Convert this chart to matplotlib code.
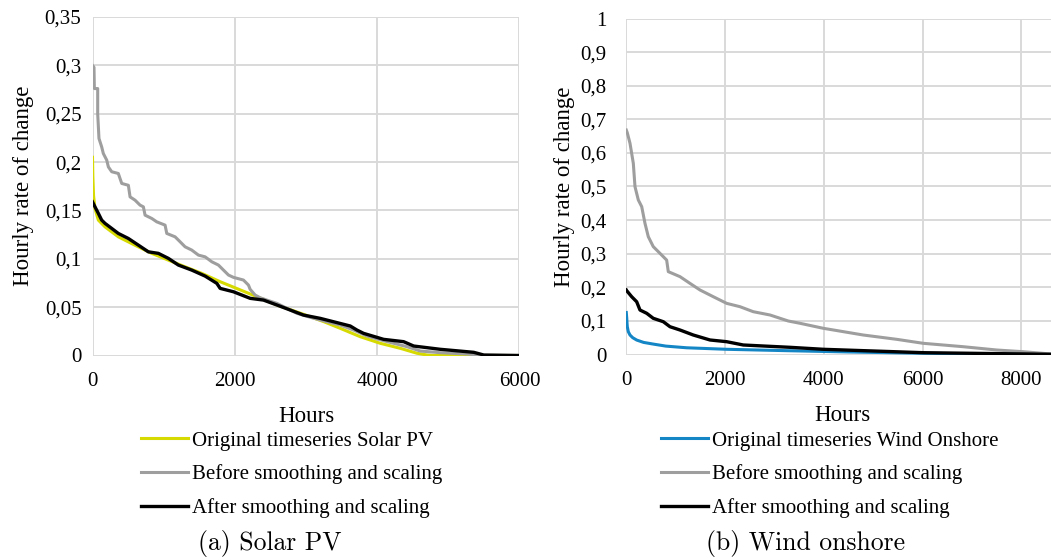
import matplotlib
matplotlib.use("Agg")
import matplotlib.pyplot as plt
from matplotlib.ticker import FuncFormatter, MultipleLocator

# ---- Solar PV duration curves (hours, hourly rate of change) ----
solar_orig_h = [0, 5, 15, 35, 82, 176, 363, 598, 833, 1067, 1301, 1536, 1794, 2310,
                2600, 2950, 3250, 3482, 3764, 4045, 4327, 4561, 4702, 4800, 6000]
solar_orig_v = [0.205, 0.185, 0.165, 0.152, 0.140, 0.133, 0.1227, 0.114, 0.1056, 0.0986,
                0.0917, 0.0849, 0.0763, 0.0608, 0.052, 0.043, 0.035, 0.0281, 0.0194,
                0.0126, 0.0074, 0.0023, 0.0005, 0.0, 0.0]

solar_before_h = [0, 21, 26, 73, 73, 91, 129, 152, 200, 223, 270, 363, 387, 411, 504, 528,
                  598, 668, 715, 739, 833, 903, 1020, 1044, 1161, 1231, 1301, 1395, 1489,
                  1583, 1677, 1770, 1841, 1911, 1981, 2122, 2192, 2216, 2286, 2357, 2451,
                  2592, 2732, 2873, 3060, 3295, 3482, 3670, 3858, 4092, 4421, 4608, 4889,
                  5265, 5499, 6000]
solar_before_v = [0.300, 0.298, 0.276, 0.276, 0.250, 0.2244, 0.2157, 0.2089, 0.2020, 0.195,
                  0.190, 0.1882, 0.183, 0.1779, 0.176, 0.164, 0.1606, 0.1555, 0.1537,
                  0.1451, 0.1417, 0.1382, 0.1348, 0.1262, 0.1227, 0.1176, 0.1124, 0.109,
                  0.1038, 0.102, 0.0969, 0.0935, 0.0883, 0.0832, 0.0808, 0.078, 0.0728,
                  0.0684, 0.0625, 0.0597, 0.0573, 0.0539, 0.0488, 0.0436, 0.0395, 0.0349,
                  0.0315, 0.0263, 0.0201, 0.0153, 0.0091, 0.0046, 0.0029, 0.0015, 0.0, 0.0]

solar_after_h = [0, 35, 82, 129, 176, 270, 363, 504, 645, 785, 926, 1067, 1207, 1395, 1583,
                 1747, 1794, 1981, 2216, 2403, 2592, 2779, 2966, 3201, 3388, 3623, 3717,
                 3810, 4092, 4373, 4514, 4889, 5358, 5499, 6000]
solar_after_v = [0.1589, 0.1537, 0.147, 0.140, 0.1366, 0.1314, 0.1262, 0.121, 0.1141,
                 0.1072, 0.1056, 0.1004, 0.0935, 0.0883, 0.0821, 0.0746, 0.0694, 0.0659,
                 0.0591, 0.0573, 0.0522, 0.047, 0.0418, 0.0384, 0.0349, 0.0305, 0.0263,
                 0.0229, 0.0167, 0.0143, 0.0098, 0.0064, 0.0033, 0.0005, 0.0]

# ---- Wind onshore duration curves ----
wind_orig_h = [0, 8, 14, 20, 40, 75, 130, 210, 350, 546, 800, 1222, 2032, 3279, 4500,
               6011, 7300, 8760]
wind_orig_v = [0.125, 0.110, 0.095, 0.083, 0.068, 0.058, 0.050, 0.043, 0.036, 0.031,
               0.025, 0.020, 0.0155, 0.0113, 0.0075, 0.0036, 0.0015, 0.0]

wind_before_h = [0, 20, 75, 142, 176, 243, 312, 378, 445, 546, 682, 817, 850, 1087, 1289,
                 1492, 1761, 2032, 2301, 2570, 2909, 3279, 3516, 3988, 4797, 5473, 6011,
                 6821, 7497, 8035, 8597, 8760]
wind_before_v = [0.668, 0.660, 0.6286, 0.569, 0.4995, 0.46, 0.44, 0.3905, 0.3507, 0.321,
                 0.301, 0.281, 0.2466, 0.2317, 0.2117, 0.192, 0.172, 0.1522, 0.1423,
                 0.1274, 0.1176, 0.0997, 0.0929, 0.078, 0.058, 0.0452, 0.0333, 0.0232,
                 0.0134, 0.0083, 0.0015, 0.0]

wind_after_h = [0, 8, 109, 210, 277, 413, 546, 749, 884, 1087, 1356, 1694, 2032, 2368,
                2773, 3313, 3988, 6011, 8597, 8760]
wind_after_v = [0.192, 0.190, 0.172, 0.157, 0.1324, 0.1226, 0.1077, 0.0976, 0.0827,
                0.0729, 0.058, 0.0432, 0.0381, 0.0283, 0.0253, 0.0214, 0.0155, 0.0054,
                0.0006, 0.0]

legend_solar = ["Original timeseries Solar PV", "Before smoothing and scaling",
                "After smoothing and scaling"]
legend_wind = ["Original timeseries Wind Onshore", "Before smoothing and scaling",
               "After smoothing and scaling"]

YELLOW = "#d6da00"
GRAY = "#9e9e9e"
BLACK = "#000000"
BLUE = "#1486c6"
GRID = "#d9d9d9"

SERIF = "Liberation Serif"

W, H = 1051, 560
fig = plt.figure(figsize=(W / 100, H / 100), dpi=100)


def px_box(x0, x1, y_top, y_bot):
    return [x0 / W, 1 - y_bot / H, (x1 - x0) / W, (y_bot - y_top) / H]


def comma_fmt(v, _pos):
    if abs(v) < 1e-9:
        return "0"
    s = f"{v:.2f}".rstrip("0").rstrip(".")
    return s.replace(".", ",")


def style_axes(ax, xmax, xstep, ymax, ystep, ypad, ylabelpad):
    ax.set_xlim(0, xmax)
    ax.set_ylim(0, ymax)
    ax.xaxis.set_major_locator(MultipleLocator(xstep))
    ax.yaxis.set_major_locator(MultipleLocator(ystep))
    ax.yaxis.set_major_formatter(FuncFormatter(comma_fmt))
    ax.grid(True, color=GRID, linewidth=1.4)
    ax.set_axisbelow(True)
    for sp in ax.spines.values():
        sp.set_visible(False)
    ax.tick_params(axis="both", length=0, labelsize=15, colors="black")
    ax.tick_params(axis="x", pad=12)
    ax.tick_params(axis="y", pad=ypad)
    for lab in ax.get_xticklabels() + ax.get_yticklabels():
        lab.set_fontfamily(SERIF)
    ax.set_xlabel("Hours", fontsize=16.5, fontfamily=SERIF, labelpad=11)
    ax.set_ylabel("Hourly rate of change", fontsize=16.5, fontfamily=SERIF,
                  labelpad=ylabelpad)


LEG_KW = dict(bbox_transform=fig.transFigure, loc="upper left", frameon=False,
              borderpad=0, borderaxespad=0, handlelength=2.25, handletextpad=0.2,
              labelspacing=0.66, prop={"family": SERIF, "size": 15})

# Left panel: Solar PV
ax1 = fig.add_axes(px_box(92.5, 519.4, 17.0, 355.5))
ax1.plot(solar_orig_h, solar_orig_v, color=YELLOW, lw=2.2, label=legend_solar[0])
ax1.plot(solar_before_h, solar_before_v, color=GRAY, lw=2.2, label=legend_solar[1])
ax1.plot(solar_after_h, solar_after_v, color=BLACK, lw=2.4, label=legend_solar[2])
style_axes(ax1, 6000, 2000, 0.35, 0.05, 8, 8)
ax1.legend(bbox_to_anchor=(141 / W, 1 - 431 / H), **LEG_KW)

# Right panel: Wind onshore (axis runs to 8760 h, beyond the figure edge)
ax2 = fig.add_axes(px_box(626.3, 1059.0, 18.5, 354.5))
ax2.plot(wind_orig_h, wind_orig_v, color=BLUE, lw=2.2, label=legend_wind[0])
ax2.plot(wind_before_h, wind_before_v, color=GRAY, lw=2.2, label=legend_wind[1])
ax2.plot(wind_after_h, wind_after_v, color=BLACK, lw=2.4, label=legend_wind[2])
style_axes(ax2, 8760, 2000, 1.0, 0.1, 14, 4)
ax2.legend(bbox_to_anchor=(661 / W, 1 - 431 / H), **LEG_KW)

# Sub-figure captions
fig.text(270 / W, 3 / H, "(a) Solar PV", family="cmr10", fontsize=18.5,
         ha="center", va="bottom")
fig.text(806 / W, 3 / H, "(b) Wind onshore", family="cmr10", fontsize=18.5,
         ha="center", va="bottom")

fig.savefig("out.png", dpi=100)
